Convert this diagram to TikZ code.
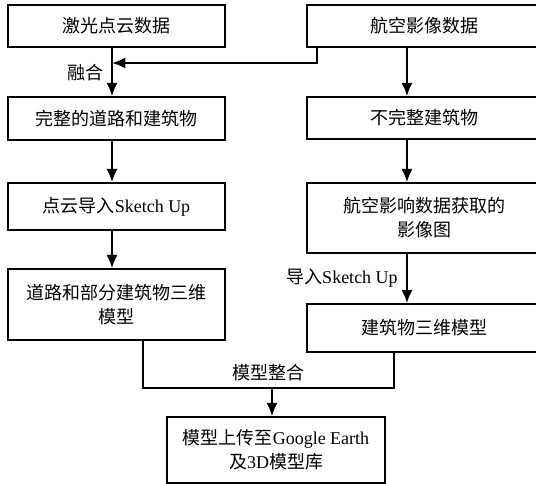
\documentclass[tikz,border=0pt]{standalone}
\usepackage{fontspec}
\setmainfont{Noto Sans CJK SC}
\newfontfamily\lat{Liberation Serif}
\usetikzlibrary{arrows.meta}
\newcommand\pxl{0.75pt}
\tikzset{box/.style={draw, line width=1pt, inner sep=0pt, align=center,
    font=\fontsize{13.5}{18}\selectfont},
  flow/.style={-{Latex[length=10pt,width=8.5pt]}, line width=1.9pt},
  mergeline/.style={line width=1.1pt},
  lbl/.style={font=\fontsize{13.5}{16}\selectfont, inner sep=0pt}}
\begin{document}
\begin{tikzpicture}[x=\pxl, y=-\pxl]
\useasboundingbox (0,0) rectangle (536,484);
% left column
\node[box, minimum width=217*\pxl, minimum height=42*\pxl] (laser) at (116.5,26) {激光点云数据};
\node[box, minimum width=217*\pxl, minimum height=43*\pxl] (full) at (116.5,118.5) {完整的道路和建筑物};
\node[box, minimum width=217*\pxl, minimum height=47*\pxl] (skp) at (116.5,206.5) {点云导入{\lat Sketch Up}};
\node[box, minimum width=217*\pxl, minimum height=71*\pxl] (road3d) at (116.5,304.5) {道路和部分建筑物三维\\模型};
% right column
\node[box, minimum width=234*\pxl, minimum height=42*\pxl] (aerial) at (424,26) {航空影像数据};
\node[box, minimum width=234*\pxl, minimum height=42*\pxl] (part) at (424,118) {不完整建筑物};
\node[box, minimum width=234*\pxl, minimum height=70*\pxl] (img) at (424,218) {航空影响数据获取的\\影像图};
\node[box, minimum width=234*\pxl, minimum height=48*\pxl] (bld3d) at (424,328) {建筑物三维模型};
% bottom
\node[box, minimum width=218*\pxl, minimum height=66*\pxl] (upload) at (276,450) {模型上传至{\lat Google Earth}\\及{\lat 3D}模型库};

\coordinate (lx) at (112,0);
\coordinate (rx) at (407,0);
\coordinate (fx) at (317,0);
\coordinate (fuse) at (112,63);
\coordinate (mx) at (143,0);
\coordinate (nx) at (394,0);
\coordinate (merge) at (272,388);

\draw[flow] (laser.south -| lx) -- (full.north -| lx);
\draw[flow] (aerial.south -| fx) |- (fuse);
\node[lbl] (fuselbl) at (85,73) {融合};
\draw[flow] (full.south -| lx) -- (skp.north -| lx);
\draw[flow] (skp.south -| lx) -- (road3d.north -| lx);
\draw[flow] (aerial.south -| rx) -- (part.north -| rx);
\draw[flow] (part.south -| rx) -- (img.north -| rx);
\draw[flow] (img.south -| rx) -- (bld3d.north -| rx);
\node[lbl, anchor=east] (implbl) at (398,278) {导入{\lat Sketch Up}};
\draw[mergeline] (road3d.south -| mx) |- (merge) -| (bld3d.south -| nx);
\node[lbl] (mergelbl) at (268,373) {模型整合};
\draw[flow] (merge) -- (upload.north -| merge);
\end{tikzpicture}
\end{document}
